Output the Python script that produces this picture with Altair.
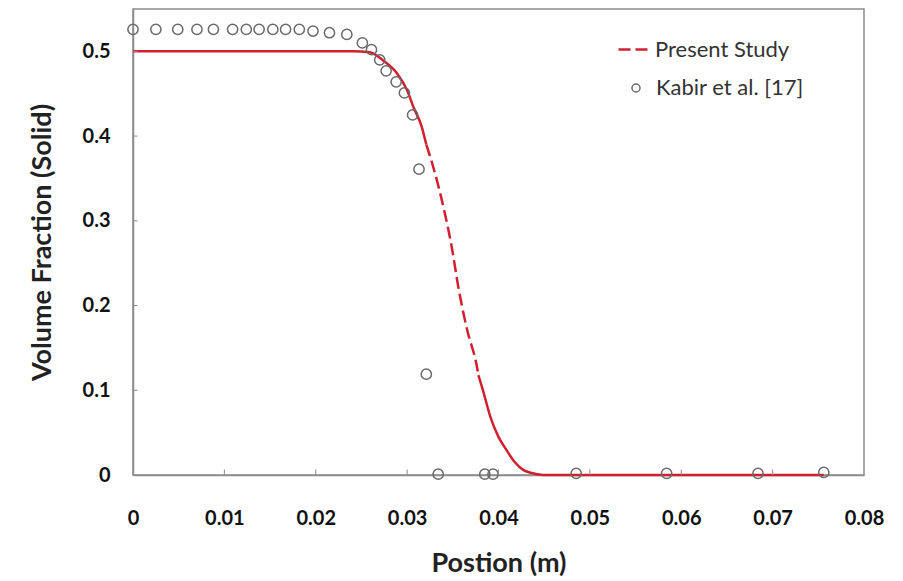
import altair as alt
import pandas as pd

# ---- data ----
curve_x = [0.0, 0.0240, 0.0259, 0.0274, 0.0289, 0.0300, 0.0307, 0.0316, 0.0321,
           0.0321, 0.0329, 0.0340, 0.0349, 0.0356, 0.0366, 0.0376, 0.0378,
           0.0378, 0.0383, 0.0391, 0.0400, 0.0409, 0.0418, 0.0427, 0.0442, 0.0449, 0.0756]
curve_y = [0.500, 0.500, 0.499, 0.489, 0.474, 0.454, 0.434, 0.411, 0.390,
           0.390, 0.362, 0.315, 0.268, 0.222, 0.170, 0.130, 0.118,
           0.118, 0.100, 0.069, 0.045, 0.029, 0.015, 0.006, 0.001, 0.000, 0.000]
curve_part = ["upper"] * 9 + ["dash"] * 8 + ["lower"] * 10

kabir_x = [0.0, 0.0025, 0.0049, 0.0070, 0.0088, 0.0109, 0.0124, 0.0138, 0.0153, 0.0167,
           0.0182, 0.0197, 0.0215, 0.0234, 0.0251, 0.0261, 0.0270, 0.0277, 0.0288, 0.0297,
           0.0306, 0.0313, 0.0321, 0.0334, 0.0385, 0.0394, 0.0485, 0.0584, 0.0684, 0.0756]
kabir_y = [0.526, 0.526, 0.526, 0.526, 0.526, 0.526, 0.526, 0.526, 0.526, 0.526,
           0.526, 0.524, 0.522, 0.520, 0.510, 0.502, 0.490, 0.477, 0.464, 0.451,
           0.425, 0.361, 0.119, 0.001, 0.001, 0.001, 0.002, 0.002, 0.002, 0.003]

x_tick_values = [0, 0.01, 0.02, 0.03, 0.04, 0.05, 0.06, 0.07, 0.08]
y_tick_values = [0, 0.1, 0.2, 0.3, 0.4, 0.5]
x_minor_ticks = [0.01, 0.02, 0.03, 0.04, 0.05, 0.06, 0.07]
y_minor_ticks = [0.1, 0.2, 0.3, 0.4, 0.5]

series_line = "Present Study"
series_points = "Kabir et al. [17]"

# ---- styling ----
RED = "#d0202e"
GRAY = "#6a6a6a"
AXC = "#8c8c8c"
FONT = "Lato"

curve = pd.DataFrame({"x": curve_x, "y": curve_y, "part": curve_part})
solid_df = curve[curve["part"] != "dash"]
dash_df = curve[curve["part"] == "dash"].assign(study=series_line)
pts_df = pd.DataFrame({"x": kabir_x, "y": kabir_y, "ref": series_points})
xt_df = pd.DataFrame({"x": x_minor_ticks})
yt_df = pd.DataFrame({"y": y_minor_ticks})

xscale = alt.Scale(domain=[0, 0.08], nice=False, zero=False)
yscale = alt.Scale(domain=[0, 0.55], nice=False)

xaxis = alt.Axis(
    title="Postion (m)", values=x_tick_values,
    labelExpr="datum.value == 0 ? '0' : format(datum.value, '.2f')",
    ticks=False, grid=False, labelPadding=33, titlePadding=22,
    labelFlush=False, labelOverlap=False,
)
yaxis = alt.Axis(
    title="Volume Fraction (Solid)", values=y_tick_values,
    labelExpr="datum.value == 0 ? '0' : format(datum.value, '.1f')",
    ticks=False, grid=False, labelPadding=23, titlePadding=26,
    labelFlush=False, labelOverlap=False,
)


def X(**kw):
    return alt.X("x:Q", scale=xscale, axis=xaxis, **kw)


def Y(**kw):
    return alt.Y("y:Q", scale=yscale, axis=yaxis, **kw)


solid = alt.Chart(solid_df).mark_line(
    color=RED, strokeWidth=2.5, interpolate="monotone"
).encode(x=X(), y=Y(), detail="part:N", order="x:Q")

dashed = alt.Chart(dash_df).mark_line(
    color=RED, strokeWidth=2.5, interpolate="monotone"
).encode(
    x=X(), y=Y(), order="x:Q",
    strokeDash=alt.StrokeDash(
        "study:N",
        scale=alt.Scale(domain=[series_line], range=[[12, 5]]),
        legend=alt.Legend(
            title=None, orient="none", legendX=484, legendY=23,
            symbolType="stroke", symbolSize=1024, symbolStrokeWidth=2.5,
            symbolStrokeColor=RED, symbolDash=[12, 8],
            labelFont=FONT, labelFontSize=22, labelColor="#333333",
            labelOffset=3, padding=0,
        ),
    ),
)

points = alt.Chart(pts_df).mark_point(
    filled=False, color=GRAY, size=105, strokeWidth=1.5, opacity=1
).encode(
    x=X(), y=Y(),
    shape=alt.Shape(
        "ref:N",
        scale=alt.Scale(domain=[series_points], range=["circle"]),
        legend=alt.Legend(
            title=None, orient="none", legendX=492, legendY=68,
            symbolSize=64, symbolStrokeWidth=1.5, symbolStrokeColor=GRAY,
            symbolFillColor="transparent",
            labelFont=FONT, labelFontSize=22, labelColor="#333333",
            labelOffset=9, padding=0,
        ),
    ),
)

xticks = alt.Chart(xt_df).mark_rule(color=AXC, strokeWidth=1).encode(
    x=X(), y=alt.Y(datum=0, scale=yscale, axis=yaxis), y2=alt.Y2(datum=0.0065)
)
yticks = alt.Chart(yt_df).mark_rule(color=AXC, strokeWidth=1).encode(
    y=Y(), x=alt.X(datum=0, scale=xscale, axis=xaxis), x2=alt.X2(datum=0.0005)
)

chart = alt.layer(solid, dashed, points, xticks, yticks).properties(
    width=731, height=466,
    autosize=alt.AutoSizeParams(type="none"),
    padding={"left": 125, "top": 1, "right": 20, "bottom": 106},
).configure_view(
    stroke=AXC, strokeWidth=1.5
).configure_axis(
    domainColor=AXC, domainWidth=1.5,
    labelFont=FONT, labelFontSize=20, labelFontWeight="bold", labelColor="#111111",
    titleFont=FONT, titleFontSize=27, titleFontWeight="bold", titleColor="#222222",
).configure_legend(
    symbolStrokeWidth=1.5,
)

chart.save("out.html", embed_options={"renderer": "svg", "actions": False})
